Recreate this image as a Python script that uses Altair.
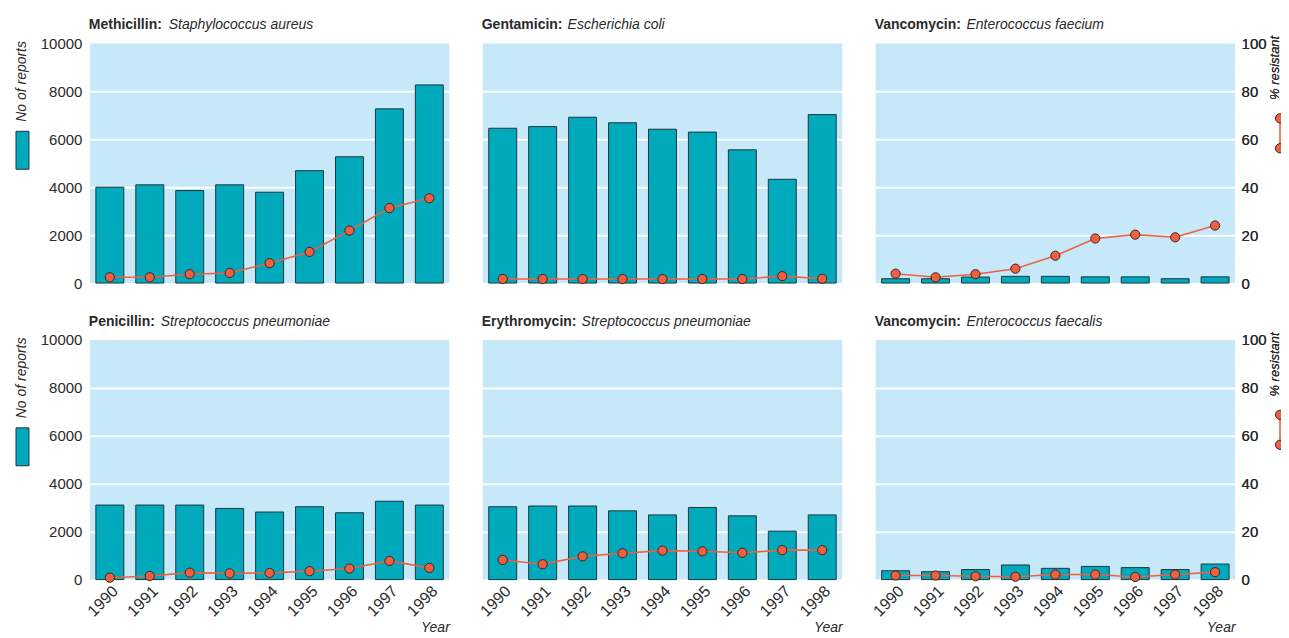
import altair as alt
import pandas as pd

FONT = "Liberation Sans, Arial, Helvetica, sans-serif"

years = [str(y) for y in range(1990, 1999)]

drugs = ["Methicillin:", "Gentamicin:", "Vancomycin:",
         "Penicillin:", "Erythromycin:", "Vancomycin:"]
species = ["Staphylococcus aureus", "Escherichia coli", "Enterococcus faecium",
           "Streptococcus pneumoniae", "Streptococcus pneumoniae", "Enterococcus faecalis"]

reports_meth = [4000, 4100, 3860, 4100, 3790, 4690, 5270, 7270, 8270]
pct_meth = [2.4, 2.4, 3.7, 4.2, 8.3, 13.0, 21.9, 31.3, 35.4]
reports_gent = [6460, 6530, 6920, 6690, 6420, 6300, 5560, 4330, 7030]
pct_gent = [1.7, 1.7, 1.7, 1.7, 1.7, 1.7, 1.7, 2.9, 1.8]
reports_vfm = [180, 180, 250, 280, 280, 260, 260, 180, 260]
pct_vfm = [3.9, 2.4, 3.7, 6.0, 11.4, 18.6, 20.2, 19.1, 24.0]
reports_pen = [3110, 3110, 3110, 2970, 2820, 3040, 2790, 3270, 3110]
pct_pen = [0.8, 1.5, 2.9, 2.6, 2.8, 3.5, 4.6, 7.8, 4.9]
reports_ery = [3040, 3070, 3070, 2870, 2700, 3010, 2660, 2020, 2700]
pct_ery = [8.2, 6.4, 9.7, 11.0, 12.1, 11.8, 11.2, 12.3, 12.3]
reports_vfs = [370, 330, 420, 610, 470, 550, 500, 420, 650]
pct_vfs = [1.7, 1.7, 1.4, 1.2, 2.1, 2.1, 1.1, 2.1, 3.1]

report_ticks = [0, 2000, 4000, 6000, 8000, 10000]
pct_ticks = [0, 20, 40, 60, 80, 100]

series = [(reports_meth, pct_meth), (reports_gent, pct_gent), (reports_vfm, pct_vfm),
          (reports_pen, pct_pen), (reports_ery, pct_ery), (reports_vfs, pct_vfs)]

TEAL = "#00a9bc"
BAR_STROKE = "#1f3639"
ORANGE = "#ef6040"
PT_STROKE = "#3b2520"
TEXT = "#2a2a2a"
BG = "#c6e8f8"

W, H = 360, 240
ITAL_OFFSET = [79, 85, 91, 71, 99, 91]
LEG_X = 405


def one(text):
    return alt.Chart(pd.DataFrame({"t": [text]}))


def dot(y):
    return one("c%d" % y).mark_point(filled=True, shape="circle", size=85, fill=ORANGE,
                                     stroke=PT_STROKE, strokeWidth=1, opacity=1).encode(
        x=alt.value(LEG_X), y=alt.value(y))


def panel(i):
    col, row = i % 3, i // 3
    reports, pct = series[i]
    df = pd.DataFrame({"Year": years, "Reports": reports, "Pct": pct})
    base = alt.Chart(df)

    if row == 1:
        xaxis = alt.Axis(labelAngle=-45, ticks=False, tickSize=0, domain=False,
                         labelFontSize=16, labelPadding=3, title="Year",
                         titleFontStyle="italic", titleFontWeight="normal",
                         titleFontSize=14, titleAnchor="end", titleAlign="right",
                         titlePadding=2, titleColor=TEXT, labelColor=TEXT)
    else:
        xaxis = None
    x = alt.X("Year:N", scale=alt.Scale(paddingInner=0.3, paddingOuter=0.15),
              axis=xaxis)

    yaxis_r = alt.Axis(values=report_ticks, format="d", grid=True,
                       gridColor={"condition": {"test": "datum.value == 0 || datum.value == 10000",
                                                "value": "transparent"},
                                  "value": "white"},
                       gridWidth=2, labels=(col == 0), ticks=False, domain=False,
                       title=None, labelFontSize=15, labelPadding=8, labelColor=TEXT)
    bars = base.mark_bar(fill=TEAL, stroke=BAR_STROKE, strokeWidth=1).encode(
        x=x,
        y=alt.Y("Reports:Q", scale=alt.Scale(domain=[0, 10000], nice=False), axis=yaxis_r),
    )

    if col == 2:
        yaxis_p = alt.Axis(values=pct_ticks, format="d", orient="right", grid=False,
                           ticks=False, domain=False, labelFontSize=15,
                           labelPadding=6, labelColor=TEXT,
                           title="% resistant", titleAngle=270, titleX=LEG_X - 366, titleY=24,
                           titleAlign="center", titleBaseline="middle",
                           titleFontStyle="italic", titleFontWeight="normal",
                           titleFontSize=13, titleColor=TEXT)
    else:
        yaxis_p = None
    ypct = alt.Y("Pct:Q", scale=alt.Scale(domain=[0, 100], nice=False), axis=yaxis_p)
    line = base.mark_line(color=ORANGE, strokeWidth=1.6).encode(x=x, y=ypct)
    pts = base.mark_point(filled=True, shape="circle", size=85, fill=ORANGE,
                          stroke=PT_STROKE, strokeWidth=1, opacity=1).encode(x=x, y=ypct)

    t1 = one(drugs[i]).mark_text(align="left", baseline="alphabetic", font=FONT,
                                 fontSize=14, fontWeight="bold", color=TEXT).encode(
        text="t:N", x=alt.value(-1), y=alt.value(-14))
    t2 = one(species[i]).mark_text(align="left", baseline="alphabetic", font=FONT,
                                   fontSize=14, fontStyle="italic", color=TEXT).encode(
        text="t:N", x=alt.value(ITAL_OFFSET[i]), y=alt.value(-14))

    layers = [bars, line, pts, t1, t2]

    if col == 0:
        lab = one("No of reports").mark_text(align="center", baseline="middle", angle=270,
                                             font=FONT, fontSize=14, fontStyle="italic",
                                             color=TEXT).encode(
            text="t:N", x=alt.value(-68), y=alt.value(38))
        sq = one("sq").mark_rect(fill=TEAL, stroke=BAR_STROKE, strokeWidth=1).encode(
            x=alt.value(-74), x2=alt.value(-61), y=alt.value(88), y2=alt.value(126))
        layers += [lab, sq]
    if col == 2:
        lg = one("lg").mark_rule(color=ORANGE, strokeWidth=1.6).encode(
            x=alt.value(LEG_X), y=alt.value(75), y2=alt.value(105))
        layers += [lg, dot(75), dot(105)]

    return alt.layer(*layers).resolve_scale(y="independent").properties(width=W, height=H)


chart = alt.concat(*[panel(i) for i in range(6)], columns=3,
                   spacing={"row": 57, "column": 33.5}, bounds="flush").properties(
    padding={"left": 6, "top": 10, "right": -6, "bottom": 0}
).configure_view(fill=BG, strokeWidth=0).configure_axis(
    labelFont=FONT, titleFont=FONT
)

chart.save("out.html", embed_options={"renderer": "svg", "actions": False})
